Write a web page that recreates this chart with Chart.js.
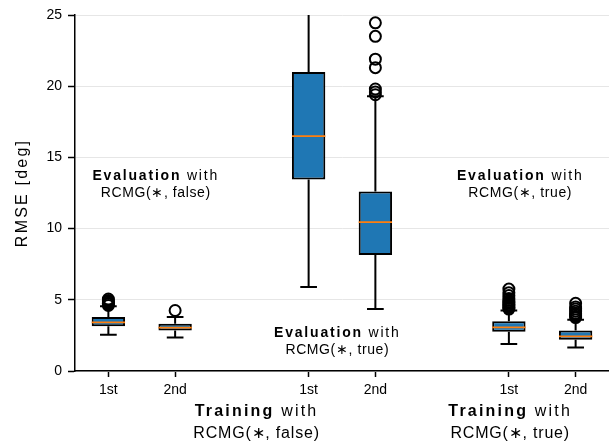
<!DOCTYPE html>
<html>
<head>
<meta charset="utf-8">
<script src="https://cdn.jsdelivr.net/npm/chart.js@4/dist/chart.umd.min.js"></script>
<style>
  html, body { margin: 0; padding: 0; background: #fff; overflow: hidden; }
  canvas { display: block; }
</style>
</head>
<body>
<canvas id="myChart" width="609" height="448"></canvas>
<script>
// box plot values
var positions = [1, 2, 4, 5, 7, 8];
var tickLabels = ['1st', '2nd', '1st', '2nd', '1st', '2nd'];
var lowWhisker = [2.55, 2.35, 5.9, 4.35, 1.9, 1.65];
var q1 = [3.15, 2.85, 13.45, 8.15, 2.75, 2.2];
var medians = [3.42, 3.05, 16.5, 10.45, 3.07, 2.43];
var q3 = [3.8, 3.32, 21.0, 12.6, 3.5, 2.85];
var highWhisker = [4.55, 3.8, 26.5, 19.3, 4.25, 3.6];
var outliers = [
    [4.6, 4.7, 4.75, 4.85, 4.95, 5.05],
    [4.25],
    [],
    [19.4, 19.6, 19.8, 21.3, 21.9, 23.5, 24.45],
    [4.35, 4.45, 4.55, 4.65, 4.75, 4.85, 4.95, 5.1, 5.3, 5.5, 5.75],
    [3.75, 3.85, 3.95, 4.05, 4.2, 4.35, 4.5, 4.75]
];
var groupTitles = ['RCMG(\u2217, false)', 'RCMG(\u2217, true)'];
var evalTitles = ['RCMG(\u2217, false)', 'RCMG(\u2217, true)', 'RCMG(\u2217, true)'];

var FONT = '"Liberation Sans", Arial, sans-serif';
var boxHalf = 0.25;
var capHalf = 0.125;

var boxData = positions.map(function (p, i) {
    return {x: p, y: [q1[i], q3[i]]};
});

var whiskerData = [];
positions.forEach(function (p, i) {
    whiskerData.push({x: p, y: lowWhisker[i]}, {x: p, y: q1[i]}, {x: p, y: null});
    whiskerData.push({x: p, y: q3[i]}, {x: p, y: highWhisker[i]}, {x: p, y: null});
    whiskerData.push({x: p - capHalf, y: lowWhisker[i]}, {x: p + capHalf, y: lowWhisker[i]}, {x: p, y: null});
    whiskerData.push({x: p - capHalf, y: highWhisker[i]}, {x: p + capHalf, y: highWhisker[i]}, {x: p, y: null});
});

var medianData = [];
positions.forEach(function (p, i) {
    medianData.push({x: p - boxHalf, y: medians[i]}, {x: p + boxHalf, y: medians[i]}, {x: p, y: null});
});

var outlierData = [];
positions.forEach(function (p, i) {
    outliers[i].forEach(function (v) {
        outlierData.push({x: p, y: v});
    });
});

function drawPair(ctx, bold, normal, cx, cy, size, spacing) {
    ctx.letterSpacing = spacing + 'px';
    ctx.font = 'bold ' + size + 'px ' + FONT;
    var w1 = ctx.measureText(bold + ' ').width;
    ctx.font = size + 'px ' + FONT;
    var w2 = ctx.measureText(normal).width;
    var x0 = cx - (w1 + w2) / 2;
    ctx.font = 'bold ' + size + 'px ' + FONT;
    ctx.fillText(bold + ' ', x0, cy);
    ctx.font = size + 'px ' + FONT;
    ctx.fillText(normal, x0 + w1, cy);
}

function drawLine(ctx, text, cx, cy, size, spacing) {
    ctx.letterSpacing = spacing + 'px';
    ctx.font = size + 'px ' + FONT;
    var w = ctx.measureText(text).width;
    ctx.fillText(text, cx - w / 2, cy);
}

var textPlugin = {
    id: 'texts',
    afterDraw: function (chart) {
        var ctx = chart.ctx;
        var xs = chart.scales.x;
        var ys = chart.scales.y;
        var area = chart.chartArea;
        ctx.save();
        ctx.fillStyle = '#000';
        ctx.textBaseline = 'middle';
        ctx.textAlign = 'left';

        // annotations inside the plot
        var evalAnchors = [[1.71, 13.7], [4.43, 2.67], [7.17, 13.7]];
        evalAnchors.forEach(function (a, i) {
            var cx = xs.getPixelForValue(a[0]);
            var cy = ys.getPixelForValue(a[1]);
            drawPair(ctx, 'Evaluation', 'with', cx, cy, 14, 1.8);
            drawLine(ctx, evalTitles[i], cx, cy + 17, 14, 0.6);
        });

        // group titles under the x axis
        var groupCenters = [3.22, 7.02];
        groupCenters.forEach(function (g, i) {
            var cx = xs.getPixelForValue(g);
            drawPair(ctx, 'Training', 'with', cx, area.bottom + 41, 16, 2.2);
            drawLine(ctx, groupTitles[i], cx, area.bottom + 63, 16, 0.8);
        });

        // y axis title
        ctx.translate(23, (area.top + area.bottom) / 2);
        ctx.rotate(-Math.PI / 2);
        drawLine(ctx, 'RMSE [deg]', 0, 0, 16, 2.2);
        ctx.restore();
    }
};

new Chart('myChart', {
    type: 'bar',
    data: {
        datasets: [{
            type: 'line',
            data: medianData,
            borderColor: '#ff7f0e',
            borderWidth: 1.8,
            pointRadius: 0,
            spanGaps: false,
            order: 0
        }, {
            type: 'scatter',
            data: outlierData,
            pointStyle: 'circle',
            pointRadius: 5.5,
            borderWidth: 2,
            borderColor: '#000',
            backgroundColor: 'rgba(0,0,0,0)',
            order: 1
        }, {
            type: 'bar',
            data: boxData,
            backgroundColor: '#1f77b4',
            borderColor: '#000',
            borderWidth: 2,
            borderSkipped: false,
            barPercentage: 0.5,
            categoryPercentage: 1.0,
            grouped: false,
            order: 2
        }, {
            type: 'line',
            data: whiskerData,
            borderColor: '#000',
            borderWidth: 2,
            pointRadius: 0,
            spanGaps: false,
            order: 3
        }]
    },
    options: {
        responsive: false,
        animation: false,
        layout: {autoPadding: false, padding: {top: 15, right: 0, left: 0, bottom: 0}},
        plugins: {
            legend: {display: false},
            tooltip: {enabled: false}
        },
        scales: {
            x: {
                type: 'linear',
                min: 0.5,
                max: 8.5,
                offset: false,
                afterBuildTicks: function (scale) {
                    scale.ticks = positions.map(function (p) { return {value: p}; });
                },
                afterFit: function (scale) {
                    scale.height = 77;
                    scale.paddingLeft = 0;
                    scale.paddingRight = 0;
                },
                ticks: {
                    autoSkip: false,
                    maxRotation: 0,
                    padding: 5,
                    color: '#000',
                    font: {family: FONT, size: 14},
                    callback: function (value, index) { return tickLabels[index]; }
                },
                grid: {offset: false, drawOnChartArea: false, tickColor: '#000', tickLength: 6, tickWidth: 1.5},
                border: {color: '#000', width: 1.5}
            },
            y: {
                min: 0,
                max: 25,
                afterFit: function (scale) {
                    scale.width = 75;
                    scale.paddingTop = 0;
                    scale.paddingBottom = 0;
                },
                ticks: {
                    stepSize: 5,
                    padding: 6,
                    color: '#000',
                    font: {family: FONT, size: 14}
                },
                grid: {color: '#e6e6e6', lineWidth: 1, tickColor: '#000', tickLength: 7, tickWidth: 1.5},
                border: {color: '#000', width: 1.5}
            }
        }
    },
    plugins: [textPlugin]
});
</script>
</body>
</html>
